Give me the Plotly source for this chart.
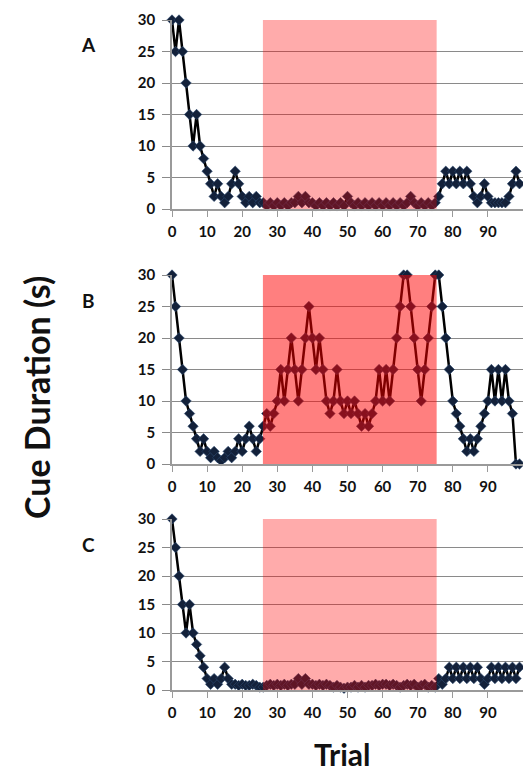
import plotly.graph_objects as go

TRIALS = list(range(100))

A_VALUES = [30, 25, 30, 25, 20, 15, 10, 15, 10, 8,
            6, 4, 2, 4, 2, 1, 2, 4, 6, 4,
            2, 1, 2, 1, 2, 1,
            1, 0.5, 1, 0.5, 1, 0.5, 1, 0.5, 1, 1,
            2, 1, 2, 1, 1, 0.5, 1, 0.5, 1, 0.5,
            1, 0.5, 1, 0.5, 2, 1, 0.5, 1, 0.5, 1,
            0.5, 1, 0.5, 1, 0.5, 1, 0.5, 1, 0.5, 1,
            0.5, 1, 2, 1, 0.5, 1, 0.5, 1, 0.5, 1,
            2, 4, 6, 4, 6, 4, 6, 4, 6, 4,
            2, 1, 2, 4, 2, 1, 1, 1, 1, 1,
            2, 4, 6, 4]

B_VALUES = [30, 25, 20, 15, 10, 8, 6, 4, 2, 4,
            2, 1, 2, 1, 0.5, 1, 2, 1, 2, 4,
            2, 4, 6, 4, 2, 4, 6, 8, 6, 8,
            10,
            15, 10, 15, 20, 15, 10, 15, 20, 25, 20,
            15, 20, 15, 10, 8, 10, 15, 10, 8, 10,
            8, 10, 8, 6, 8, 6, 8, 10, 15, 10,
            15, 10, 15, 20, 25, 30, 30, 25, 20, 15,
            10, 15, 20, 25, 30, 30, 25, 20, 15, 10,
            8, 6, 4, 2, 4, 2, 4, 6, 8, 10,
            15, 10, 15, 10, 15, 10, 8, 0, 0]

C_VALUES = [30, 25, 20, 15, 10, 15, 10, 8, 6, 4,
            2, 1, 2, 1, 2, 4, 2, 1,
            1, 0.8, 1, 0.8, 0.8, 1, 0.8, 0.5,
            0.5, 0.8, 1, 0.8, 1, 0.8, 1, 0.8, 1, 1,
            2, 1, 2, 1, 1, 0.8, 1, 0.8, 1, 0.8,
            0.5, 0.8, 0.5, 0.3, 0.5, 0.5, 0.8, 0.5, 0.8, 0.5,
            0.8, 0.8, 1, 0.8, 1, 1, 0.8, 1, 0.8, 0.5,
            0.8, 1, 0.8, 1, 0.5, 0.8, 1, 0.5, 0.8, 0.5,
            2, 1, 2, 4, 2, 4, 2, 4, 2, 4,
            2, 4, 2, 1, 2, 4, 2, 4, 2, 4,
            2, 4, 2, 4]

PANEL_LABELS = ["A", "B", "C"]
SERIES = [A_VALUES, B_VALUES, C_VALUES]
Y_TICKS = [0, 5, 10, 15, 20, 25, 30]
X_TICKS = [0, 10, 20, 30, 40, 50, 60, 70, 80, 90]
SHADE_START, SHADE_END = 25.9, 75.4

W, H = 523, 774
# pixel extents (top, bottom) of each panel
PANEL_PX = [(20, 209), (275, 464), (519, 690)]
SHADE_OPACITY = [0.33, 0.5, 0.33]
X_LEFT_PX = 172

FONT = "Lato, 'Open Sans', sans-serif"

fig = go.Figure()
for i, vals in enumerate(SERIES):
    n = "" if i == 0 else str(i + 1)
    fig.add_trace(go.Scatter(
        x=TRIALS, y=vals, mode="lines+markers",
        xaxis="x" + n, yaxis="y" + n,
        line=dict(color="#000000", width=2.5),
        marker=dict(symbol="diamond", size=8, color="#13213a",
                    line=dict(color="#2c4a70", width=0.6)),
        cliponaxis=False, showlegend=False,
    ))
    top, bot = PANEL_PX[i]
    dom_y = [(H - bot) / H, (H - top) / H]
    fig.layout["xaxis" + n] = dict(
        domain=[X_LEFT_PX / W, 1], range=[0, 100], anchor="y" + n,
        tickvals=X_TICKS, ticks="outside", ticklen=6, tickcolor="#9a9a9a",
        showline=True, linecolor="#9a9a9a", linewidth=1.5,
        showgrid=False, zeroline=False, automargin=False,
        tickfont=dict(family=FONT, size=15, color="#111", weight="bold"),
        ticklabelstandoff=2,
    )
    fig.layout["yaxis" + n] = dict(
        domain=dom_y, range=[0, 30], anchor="x" + n,
        tickvals=Y_TICKS, ticks="outside", ticklen=8, tickcolor="#8a8a8a",
        showline=True, linecolor="#9a9a9a", linewidth=1.5,
        showgrid=True, gridcolor="#8a8a8a", gridwidth=1, zeroline=False,
        automargin=False,
        tickfont=dict(family=FONT, size=15, color="#111", weight="bold"),
        ticklabelstandoff=4,
    )
    fig.add_shape(type="rect", xref="x" + n, yref="y" + n,
                  x0=SHADE_START, x1=SHADE_END, y0=0, y1=30,
                  fillcolor="rgb(255,0,0)", opacity=SHADE_OPACITY[i],
                  line=dict(width=0), layer="above")
    fig.add_annotation(text=PANEL_LABELS[i], xref="paper", yref="paper",
                       x=88 / W, y=(H - (top + 25)) / H, showarrow=False,
                       xanchor="center", yanchor="middle",
                       font=dict(family=FONT, size=19, color="#111", weight="bold"))

fig.add_annotation(text="Cue Duration (s)", xref="paper", yref="paper",
                   x=36 / W, y=(H - 398) / H, textangle=-90, showarrow=False,
                   xanchor="center", yanchor="middle",
                   font=dict(family=FONT, size=34, color="#111", weight="bold"))
fig.add_annotation(text="Trial", xref="paper", yref="paper",
                   x=342 / W, y=0, showarrow=False,
                   xanchor="center", yanchor="bottom",
                   font=dict(family=FONT, size=30, color="#111", weight="bold"))

fig.update_layout(width=W, height=H, margin=dict(l=0, r=0, t=0, b=0, pad=0),
                  plot_bgcolor="white", paper_bgcolor="white")
fig.write_html("out.html", config={"displayModeBar": False},
               post_script="document.body.style.margin='0';"
                           "document.body.style.overflow='hidden';")
